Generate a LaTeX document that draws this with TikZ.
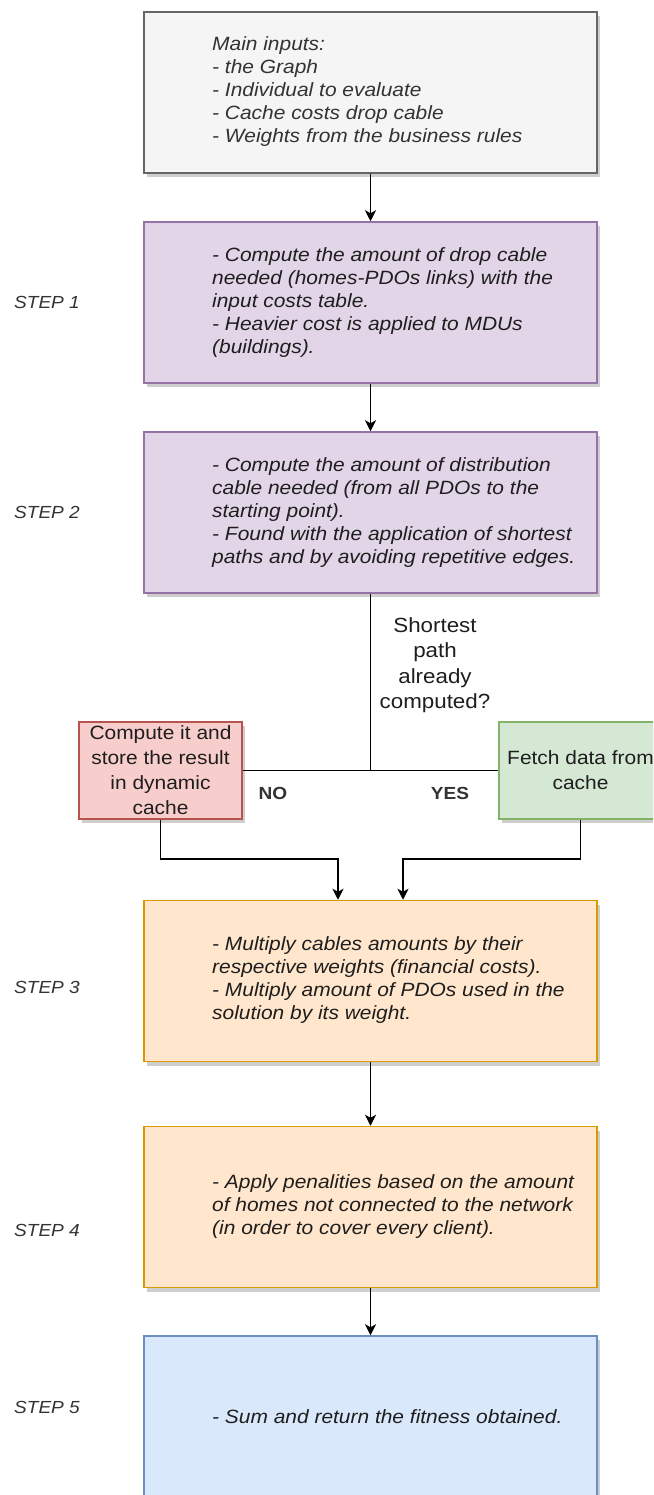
\documentclass[tikz,border=0pt]{standalone}
\usepackage{fontspec}
\setmainfont{Liberation Sans}[FakeStretch=1.09]
\usetikzlibrary{arrows.meta,shadows}

\definecolor{grayfill}{HTML}{F5F5F5}
\definecolor{graydraw}{HTML}{666666}
\definecolor{purpfill}{HTML}{E1D5E7}
\definecolor{purpdraw}{HTML}{9673A6}
\definecolor{redfill}{HTML}{F8CECC}
\definecolor{reddraw}{HTML}{B85450}
\definecolor{greenfill}{HTML}{D5E8D4}
\definecolor{greendraw}{HTML}{82B366}
\definecolor{orangefill}{HTML}{FFE6CC}
\definecolor{orangedraw}{HTML}{D79B00}
\definecolor{bluefill}{HTML}{DAE8FC}
\definecolor{bluedraw}{HTML}{6C8EBF}
\definecolor{inktext}{HTML}{1E1E1E}
\definecolor{softtext}{HTML}{333333}

\tikzset{
  boxshadow/.style={drop shadow={shadow xshift=3pt,shadow yshift=-4pt,opacity=0.32,fill=black!60}},
  stepbox/.style={draw, line width=1.5pt, minimum width=453pt, minimum height=161pt, inner sep=0pt, boxshadow},
  sidebox/.style={draw, line width=1.5pt, minimum width=163pt, minimum height=97pt, inner sep=0pt, boxshadow,
    align=center, text=inktext, font=\fontsize{19.2}{25}\selectfont},
  boxtext/.style={anchor=west, align=left, inner sep=0pt, text=inktext, font=\fontsize{19.2}{23}\selectfont\itshape},
  steplabel/.style={inner sep=0pt, text=softtext, font=\fontsize{17.5}{21}\selectfont\itshape},
  plainlabel/.style={inner sep=0pt, align=center, text=inktext, font=\fontsize{20.5}{25.5}\selectfont},
  branchlabel/.style={inner sep=0pt, text=softtext, font=\fontsize{17.5}{21}\selectfont\bfseries},
  conn/.style={line width=1.5pt, black},
  arr/.style={conn, -{Stealth[length=11pt,width=11pt,inset=3pt]}}
}

\begin{document}
\begin{tikzpicture}[x=1pt,y=-1pt]
\useasboundingbox (0,0) rectangle (653,1495);
\clip (0,0) rectangle (653,1495);

% main column of boxes
\node[stepbox, fill=grayfill, draw=graydraw]     (in)  at (370.5,92.5)  {};
\node[stepbox, fill=purpfill, draw=purpdraw]     (s1)  at (370.5,302.5) {};
\node[stepbox, fill=purpfill, draw=purpdraw]     (s2)  at (370.5,512.5) {};
\node[stepbox, fill=orangefill, draw=orangedraw] (s3)  at (370.5,981)   {};
\node[stepbox, fill=orangefill, draw=orangedraw] (s4)  at (370.5,1207)  {};
\node[stepbox, fill=bluefill, draw=bluedraw]     (s5)  at (370.5,1416.5){};

% branch boxes
\node[sidebox, fill=redfill, draw=reddraw]     (red)   at (160.5,770.5) {Compute it and\\store the result\\in dynamic\\cache};
\node[sidebox, fill=greenfill, draw=greendraw] (green) at (580.5,770.5) {Fetch data from\\cache};

% box contents
\node[boxtext, text=softtext] (intxt) at (212,92) {Main inputs:\\- the Graph\\- Individual to evaluate\\- Cache costs drop cable\\- Weights from the business rules};
\node[boxtext] (s1txt) at (212,303) {- Compute the amount of drop cable\\needed (homes-PDOs links) with the\\input costs table.\\- Heavier cost is applied to MDUs\\(buildings).};
\node[boxtext] (s2txt) at (212,512.5) {- Compute the amount of distribution\\cable needed (from all PDOs to the\\starting point).\\- Found with the application of shortest\\paths and by avoiding repetitive edges.};
\node[boxtext] (s3txt) at (212,980.5) {- Multiply cables amounts by their\\respective weights (financial costs).\\- Multiply amount of PDOs used in the\\solution by its weight.};
\node[boxtext] (s4txt) at (212,1206.5) {- Apply penalities based on the amount\\of homes not connected to the network\\(in order to cover every client).};
\node[boxtext] (s5txt) at (212,1416.5) {- Sum and return the fitness obtained.};

% step labels
\node[steplabel] (l1) at (47,302)  {STEP 1};
\node[steplabel] (l2) at (47,512)  {STEP 2};
\node[steplabel] (l3) at (47,987)  {STEP 3};
\node[steplabel] (l4) at (47,1230) {STEP 4};
\node[steplabel] (l5) at (47,1407) {STEP 5};

% decision labels
\node[plainlabel] (ask) at (435,665) {Shortest\\path\\already\\computed?};
\node[branchlabel] (no)  at (273,793) {NO};
\node[branchlabel] (yes) at (450,793) {YES};

% connectors
\coordinate (junc)  at (370.5,770.5);
\coordinate (bendL) at (338,859);
\coordinate (bendR) at (403,859);

\draw[arr] (in.south) -- (s1.north);
\draw[arr] (s1.south) -- (s2.north);
\draw[conn] (s2.south) -- (junc);
\draw[conn] (red.east) -- (green.west);
\draw[arr] (red.south) |- (bendL) -- (bendL |- s3.north);
\draw[arr] (green.south) |- (bendR) -- (bendR |- s3.north);
\draw[arr] (s3.south) -- (s4.north);
\draw[arr] (s4.south) -- (s5.north);
\end{tikzpicture}
\end{document}
